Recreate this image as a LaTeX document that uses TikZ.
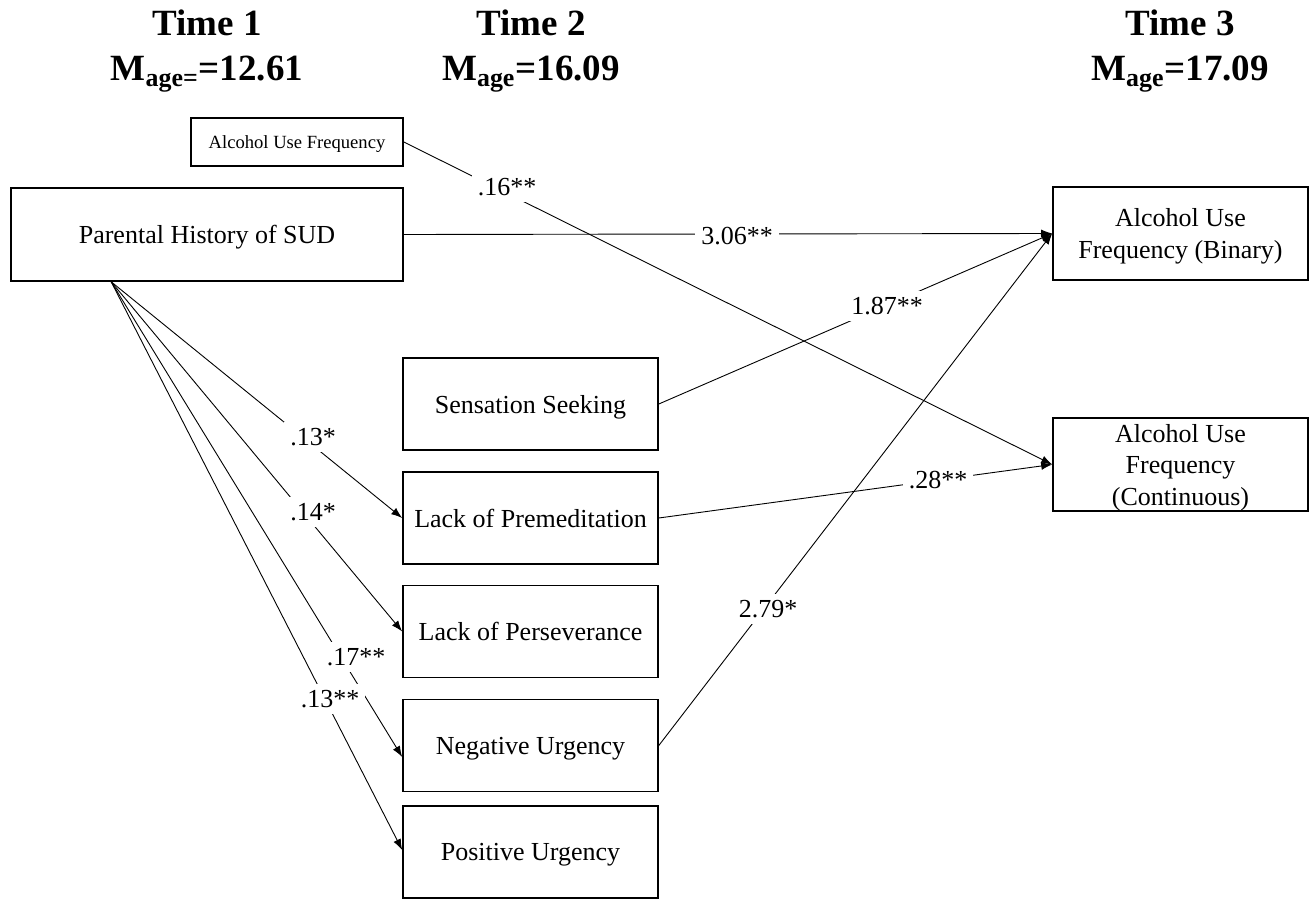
\documentclass[tikz,border=0pt]{standalone}
\usepackage{fontspec}
\setmainfont{Liberation Serif}
\usetikzlibrary{arrows.meta,calc}
\begin{document}
\begin{tikzpicture}[x=0.5pt,y=-0.5pt,
  box/.style={draw, line width=0.8pt, inner sep=0pt, align=center, text depth=0pt,
    font=\fontsize{13}{16}\selectfont},
  midbox/.style={box, minimum width=127.5pt, minimum height=46pt},
  outbox/.style={box, minimum width=127.5pt, minimum height=46.5pt},
  link/.style={line width=0.45pt, -{Latex[length=5.5pt,width=4pt]}},
  coef/.style={fill=white, inner sep=3pt, font=\fontsize{13}{16}\selectfont},
  head/.style={font=\bfseries\fontsize{18.5}{22}\selectfont, anchor=base}]

\useasboundingbox (0,0) rectangle (1314,899);

% column headings
\node[head] (t1) at (207,36) {Time 1};
\node[head] (m1) at (207,81) {M\textsubscript{age=}=12.61};
\node[head] (t2) at (531,36) {Time 2};
\node[head] (m2) at (531,81) {M\textsubscript{age}=16.09};
\node[head] (t3) at (1180,36) {Time 3};
\node[head] (m3) at (1180,81) {M\textsubscript{age}=17.09};

% Time 1 measures
\node[box, minimum width=106pt, minimum height=24pt,
  font=\fontsize{9.3}{11}\selectfont] (auf) at (297,142) {Alcohol Use Frequency};
\node[box, minimum width=196pt, minimum height=46.5pt] (phs) at (207,234.5) {Parental History of SUD};

% Time 2 impulsivity traits
\node[midbox] (ss)  at (530.5,404)   {Sensation Seeking};
\node[midbox] (lpm) at (530.5,518)   {Lack of Premeditation};
\node[midbox] (lps) at (530.5,631.5) {Lack of Perseverance};
\node[midbox] (nu)  at (530.5,745.5) {Negative Urgency};
\node[midbox] (pu)  at (530.5,852)   {Positive Urgency};

% Time 3 outcomes
\node[outbox] (bin)  at (1180.5,233.5) {Alcohol Use\\Frequency (Binary)};
\node[outbox, font=\fontsize{13}{15.75}\selectfont] (cont) at (1180.5,464.5) {Alcohol Use\\Frequency\\(Continuous)};

% paths
\coordinate (src) at ($(phs.south west)+(101,0)$);
\coordinate (nuin) at ($(nu.west)+(0,11.5)$);
\coordinate (puin) at ($(pu.west)+(0,-2)$);

\draw[link] (auf.east) -- (cont.west);
\draw[link] (phs.east) -- (bin.west);
\draw[link] (ss.east) -- (bin.west);
\draw[link] (lpm.east) -- (cont.west);
\draw[link] (nu.east) -- (bin.west);
\draw[link] (src) -- (lpm.west);
\draw[link] (src) -- (lps.west);
\draw[link] (src) -- (nuin);
\draw[link] (src) -- (puin);

% path coefficients
\node[coef] (c1) at (507,187) {.16**};
\node[coef] (c2) at (737,236) {3.06**};
\node[coef] (c3) at (887,306) {1.87**};
\node[coef] (c4) at (938,480) {.28**};
\node[coef] (c5) at (768,609) {2.79*};
\node[coef] (c6) at (313,437) {.13*};
\node[coef] (c7) at (313,512) {.14*};
\node[coef] (c8) at (356,657) {.17**};
\node[coef] (c9) at (330,699) {.13**};
\end{tikzpicture}
\end{document}
